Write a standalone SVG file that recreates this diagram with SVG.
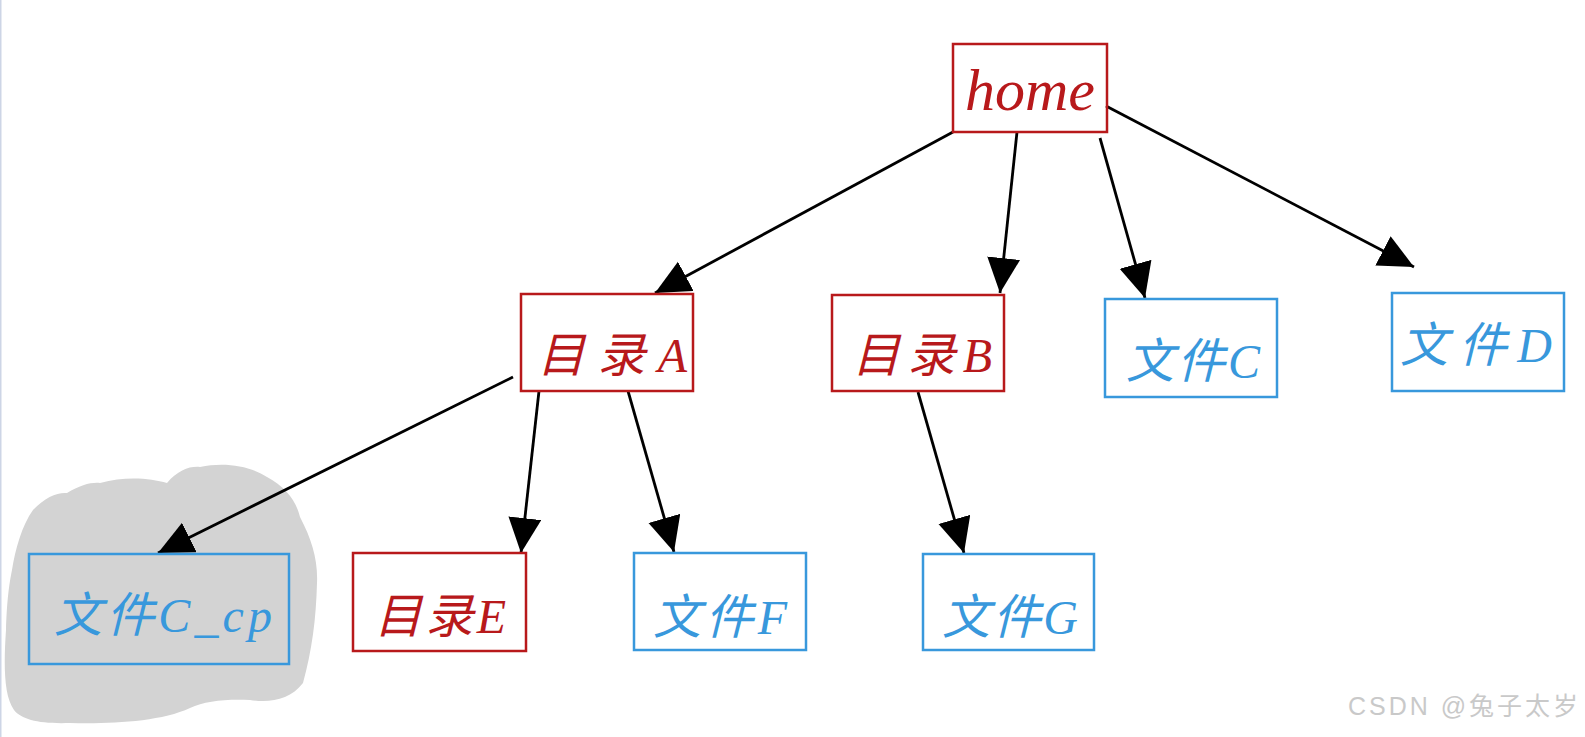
<svg xmlns="http://www.w3.org/2000/svg" width="1585" height="737" viewBox="0 0 1585 737">
<style>
.red rect{fill:none;stroke:#b8191b;stroke-width:2.5}
.blue rect{fill:none;stroke:#3898dc;stroke-width:2.5}
.red text{fill:#b8191b}
.blue text{fill:#3898dc}
text.lbl{font-family:"Liberation Serif","Noto Sans CJK SC",serif;font-style:italic;font-size:48px}
.conn line{stroke:#000;stroke-width:2.8;fill:none}
.wm{font-family:"Liberation Sans","Noto Sans CJK SC",sans-serif;font-size:25px;fill:#c9c9c9}
</style>
<defs>
<marker id="ah" markerUnits="userSpaceOnUse" markerWidth="36" markerHeight="34" refX="35" refY="16.5" orient="auto" viewBox="0 0 36 34">
<path d="M0,0 L35,16.5 L0,33 Z" fill="#000"/>
</marker>
</defs>
<rect x="0" y="0" width="1585" height="737" fill="#fff"/>
<rect x="0" y="0" width="1.5" height="737" fill="#cdd5e6"/>
<path id="cloud" d="M33,510 C45,497 58,492 67,493 C80,485 92,482 100,483 C125,476 150,478 167,483 C178,470 190,466 200,467 C225,462 250,466 267,477 C285,487 296,500 300,517 C312,540 318,560 317,583 C316,620 312,650 303,683 C290,700 270,703 250,700 C225,699 205,701 190,708 C160,722 110,724 70,723 C40,724 22,720 14,710 C3,695 4,660 6,630 C7,600 9,585 12,570 C15,550 22,525 33,510 Z" fill="#d3d3d3"/>
<g class="conn">
<line x1="953" y1="132" x2="655" y2="293" marker-end="url(#ah)"/>
<line x1="1017" y1="132" x2="1000" y2="293" marker-end="url(#ah)"/>
<line x1="1100" y1="138" x2="1145" y2="298" marker-end="url(#ah)"/>
<line x1="1106" y1="106" x2="1414" y2="267" marker-end="url(#ah)"/>
<line x1="513" y1="377" x2="158" y2="553" marker-end="url(#ah)"/>
<line x1="539" y1="391" x2="521" y2="553" marker-end="url(#ah)"/>
<line x1="628" y1="391" x2="674" y2="552" marker-end="url(#ah)"/>
<line x1="918" y1="392" x2="964" y2="553" marker-end="url(#ah)"/>
</g>
<g id="home" class="red">
<rect x="953" y="44" width="154" height="88"/>
<text class="lbl" x="965" y="110" textLength="130" style="font-size:60px">home</text>
</g>
<g id="dirA" class="red">
<rect x="521" y="294" width="172" height="97"/>
<text class="lbl" x="537" y="372" textLength="150">目录A</text>
</g>
<g id="dirB" class="red">
<rect x="832" y="295" width="172" height="96"/>
<text class="lbl" x="852" y="372" textLength="140">目录B</text>
</g>
<g id="fileC" class="blue">
<rect x="1105" y="299" width="172" height="98"/>
<text class="lbl" x="1126" y="378" textLength="134">文件C</text>
</g>
<g id="fileD" class="blue">
<rect x="1392" y="293" width="172" height="98"/>
<text class="lbl" x="1400" y="362" textLength="152">文件D</text>
</g>
<g id="fileCcp" class="blue">
<rect x="29" y="554" width="260" height="110"/>
<text class="lbl" x="54" y="632" textLength="218">文件C_cp</text>
</g>
<g id="dirE" class="red">
<rect x="353" y="553" width="173" height="98"/>
<text class="lbl" x="374" y="633" textLength="132">目录E</text>
</g>
<g id="fileF" class="blue">
<rect x="634" y="553" width="172" height="97"/>
<text class="lbl" x="653" y="634" textLength="134">文件F</text>
</g>
<g id="fileG" class="blue">
<rect x="923" y="554" width="171" height="96"/>
<text class="lbl" x="942" y="634" textLength="136">文件G</text>
</g>
<text class="wm" x="1348" y="715" textLength="230">CSDN @兔子太岁</text>
</svg>
